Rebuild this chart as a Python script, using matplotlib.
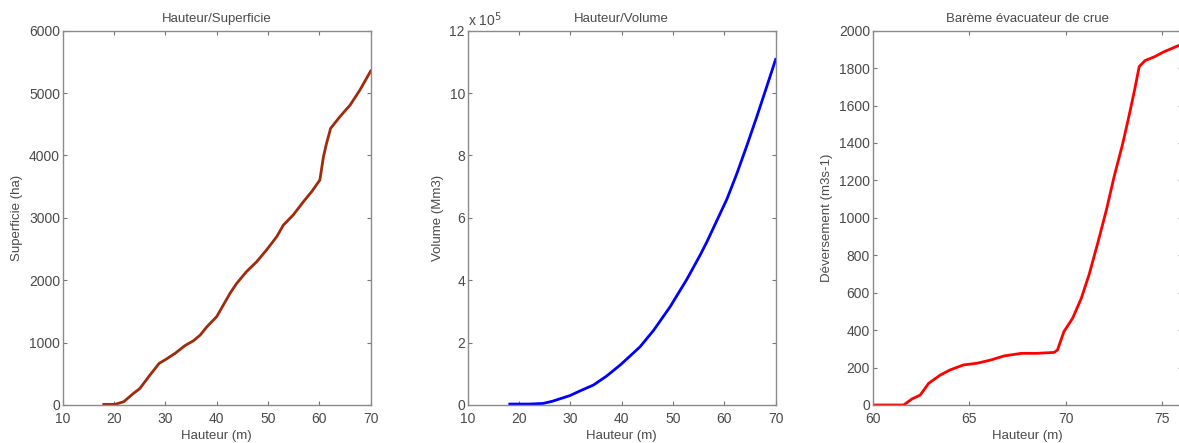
import matplotlib
matplotlib.use('Agg')
import matplotlib.pyplot as plt


# =========================
# DATA
# =========================
# Hauteur / Superficie
h_surf = [18.0, 20.2, 21.9, 23.8, 25.0, 27.0, 28.8, 29.9, 31.9, 33.8, 35.5,
          36.8, 38.1, 40.0, 41.3, 42.6, 43.9, 45.8, 47.8, 49.7, 51.7, 53.0,
          54.9, 56.9, 58.5, 60.1, 60.8, 61.4, 62.2, 64.0, 66.0, 67.9, 70.0]
surf = [10, 10, 53, 187, 262, 480, 668, 721, 828, 951, 1031,
        1122, 1255, 1416, 1603, 1790, 1950, 2137, 2297, 2484, 2698, 2885,
        3045, 3259, 3419, 3606, 3980, 4193, 4434, 4621, 4808, 5048, 5353]

# Hauteur / Volume (x 10^5)
h_vol = [18.2, 20.0, 22.0, 24.7, 26.5, 28.0, 29.9, 32.0, 34.5, 37.0, 39.7,
         41.5, 43.6, 46.2, 49.4, 52.7, 55.3, 56.6, 60.5, 62.4, 64.4, 66.3,
         68.25, 70.0]
vol = [0.03, 0.03, 0.03, 0.05, 0.12, 0.20, 0.30, 0.46, 0.64, 0.92, 1.28,
       1.55, 1.87, 2.39, 3.14, 4.03, 4.81, 5.23, 6.60, 7.40, 8.32, 9.23,
       10.20, 11.08]

# Bareme evacuateur de crue
h_dev = [60.0, 61.6, 62.03, 62.46, 62.9, 63.5, 64.0, 64.7, 65.4, 66.1, 66.8,
         67.7, 68.5, 69.4, 69.57, 69.9, 70.35, 70.8, 71.2, 71.65, 72.1, 72.5,
         72.95, 73.3, 73.56, 73.8, 74.1, 74.6, 75.1, 75.9, 76.0]
dev = [0, 0, 32, 53, 116, 160, 187, 214, 223, 240, 262,
       276, 276, 281, 294, 392, 463, 570, 695, 864, 1042, 1220,
       1398, 1558, 1683, 1808, 1840, 1861, 1888, 1923, 1925]


# =========================
# STYLE (matlab-ish look)
# =========================
TXT = '#4a4a4a'
plt.rcParams['font.family'] = ['Liberation Sans', 'DejaVu Sans']
plt.rcParams['font.size'] = 9.5
plt.rcParams['text.color'] = TXT
plt.rcParams['axes.labelcolor'] = TXT
plt.rcParams['xtick.color'] = '#777777'
plt.rcParams['ytick.color'] = '#777777'
plt.rcParams['xtick.labelcolor'] = TXT
plt.rcParams['ytick.labelcolor'] = TXT
plt.rcParams['axes.edgecolor'] = '#8a8a8a'


def style_axes(ax):
    ax.tick_params(direction='in', length=3, width=0.8, top=True, right=True,
                   labelsize=10)
    ax.tick_params(axis='x', pad=5)
    ax.tick_params(axis='y', pad=2)
    for sp in ax.spines.values():
        sp.set_linewidth(1.0)


fig = plt.figure(figsize=(11.79, 4.43), dpi=100)
bottom, height = 0.0858, 0.845
width = 0.2612

# 1. Hauteur/Superficie
ax1 = fig.add_axes([0.0532, bottom, width, height])
ax1.plot(h_surf, surf, color='#a02a0c', linewidth=2)
ax1.set_xlim(10, 70)
ax1.set_ylim(0, 6000)
ax1.set_xticks(range(10, 71, 10))
ax1.set_yticks(range(0, 6001, 1000))
ax1.set_title("Hauteur/Superficie", fontsize=9.5, pad=6)
ax1.set_xlabel("Hauteur (m)", labelpad=3)
ax1.set_ylabel("Superficie (ha)", labelpad=4)
style_axes(ax1)

# 2. Hauteur/Volume
ax2 = fig.add_axes([0.3967, bottom, width, height])
ax2.plot(h_vol, vol, color='#0000ff', linewidth=2)
ax2.set_xlim(10, 70)
ax2.set_ylim(0, 12)
ax2.set_xticks(range(10, 71, 10))
ax2.set_yticks(range(0, 13, 2))
ax2.set_title("Hauteur/Volume", fontsize=9.5, pad=6)
ax2.set_xlabel("Hauteur (m)", labelpad=3)
ax2.set_ylabel("Volume (Mm3)", labelpad=4)
ax2.text(0.0, 1.004, r"x 10$^5$", transform=ax2.transAxes, fontsize=10,
         ha='left', va='bottom', color=TXT)
style_axes(ax2)

# 3. Bareme evacuateur de crue
ax3 = fig.add_axes([0.7402, bottom, 0.2621, height])
ax3.plot(h_dev, dev, color='#ff0000', linewidth=2)
ax3.set_xlim(60, 76)
ax3.set_ylim(0, 2000)
ax3.set_xticks(range(60, 76, 5))
ax3.set_yticks(range(0, 2001, 200))
ax3.set_title("Barème évacuateur de crue", fontsize=9.5, pad=6)
ax3.set_xlabel("Hauteur (m)", labelpad=3)
ax3.set_ylabel("Déversement (m3s-1)", labelpad=4)
style_axes(ax3)

fig.savefig("out.png", dpi=100)
plt.close(fig)
